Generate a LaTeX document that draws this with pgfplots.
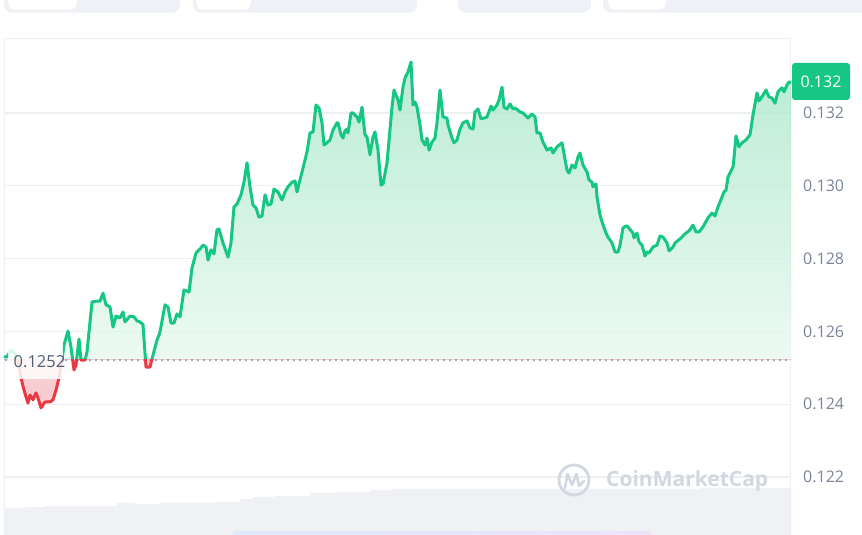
\documentclass[border=0pt]{standalone}
\usepackage{fontspec}
\setmainfont{Open Sans}
\usepackage{pgfplots}
\pgfplotsset{compat=1.18}
\usepackage{pgfplotstable}
\definecolor{cmcgreen}{RGB}{22,199,132}
\definecolor{cmcred}{RGB}{234,57,67}
\definecolor{gridc}{RGB}{237,240,243}
\definecolor{ticklab}{RGB}{122,132,152}
\definecolor{labdark}{RGB}{80,94,118}
\definecolor{greentop}{RGB}{160,228,196}
\definecolor{greenbot}{RGB}{241,251,246}
\definecolor{redfill}{RGB}{245,184,189}
\definecolor{volc}{RGB}{239,241,245}
\definecolor{tabc}{RGB}{238,241,245}
\definecolor{wmc}{RGB}{210,215,224}
\definecolor{dotc}{RGB}{160,167,180}
\definecolor{bandl}{RGB}{224,234,253}
\definecolor{bandr}{RGB}{237,228,252}

\pgfplotstableread{
x y
4 0.12530
7 0.12530
11 0.12549
14 0.12543
18 0.12516
21 0.12472
24 0.12439
28 0.12403
30 0.12425
33 0.12412
36 0.12431
38 0.12417
41 0.12390
45 0.12406
50 0.12406
53 0.12412
56 0.12439
59 0.12472
62 0.12521
64 0.12563
68 0.12601
71 0.12557
74 0.12494
76 0.12508
79 0.12579
81 0.12521
85 0.12521
87 0.12543
92 0.12681
97 0.12683
100 0.12683
103 0.12705
106 0.12673
110 0.12667
113 0.12612
116 0.12642
120 0.12637
123 0.12653
125 0.12626
130 0.12642
134 0.12640
137 0.12629
140 0.12626
143 0.12618
146 0.12502
150 0.12502
153 0.12535
157 0.12576
160 0.12598
165 0.12673
168 0.12667
171 0.12623
174 0.12623
177 0.12648
180 0.12640
184 0.12714
189 0.12708
192 0.12774
196 0.12815
200 0.12826
203 0.12837
206 0.12832
208 0.12796
211 0.12824
214 0.12813
217 0.12879
219 0.12881
223 0.12843
228 0.12804
231 0.12843
234 0.12942
237 0.12950
241 0.12975
244 0.13010
247 0.13063
250 0.12997
253 0.12947
256 0.12939
259 0.12914
262 0.12917
265 0.12975
268 0.12947
271 0.12950
274 0.12991
278 0.12983
282 0.12961
285 0.12983
288 0.12997
292 0.13010
295 0.13013
297 0.12983
300 0.13016
303 0.13049
307 0.13093
310 0.13145
313 0.13148
316 0.13222
319 0.13214
322 0.13173
324 0.13112
327 0.13118
330 0.13126
333 0.13153
337 0.13173
338 0.13173
341 0.13140
343 0.13131
345 0.13151
347 0.13156
348 0.13145
351 0.13200
353 0.13200
357 0.13189
359 0.13175
362 0.13216
363 0.13189
365 0.13140
367 0.13134
370 0.13085
373 0.13134
375 0.13148
378 0.13098
381 0.13002
383 0.13005
387 0.13063
392 0.13216
394 0.13263
398 0.13236
400 0.13208
403 0.13271
405 0.13296
408 0.13313
411 0.13340
413 0.13222
415 0.13230
417 0.13216
420 0.13167
422 0.13126
425 0.13112
427 0.13131
429 0.13098
432 0.13120
435 0.13131
437 0.13173
440 0.13263
443 0.13189
447 0.13186
448 0.13167
452 0.13131
454 0.13118
457 0.13126
460 0.13156
463 0.13173
467 0.13178
470 0.13159
473 0.13156
475 0.13203
478 0.13211
481 0.13184
484 0.13186
487 0.13189
491 0.13219
493 0.13208
497 0.13222
499 0.13236
502 0.13271
504 0.13216
507 0.13211
510 0.13225
513 0.13211
515 0.13214
520 0.13203
523 0.13200
528 0.13186
532 0.13197
535 0.13189
537 0.13145
540 0.13145
543 0.13120
547 0.13098
551 0.13104
553 0.13090
557 0.13107
562 0.13118
567 0.13043
569 0.13035
572 0.13057
575 0.13049
578 0.13079
580 0.13090
583 0.13057
587 0.13038
589 0.13016
592 0.13010
593 0.12997
596 0.13005
597 0.12969
600 0.12920
602 0.12901
606 0.12870
608 0.12859
612 0.12843
615 0.12818
618 0.12818
620 0.12837
623 0.12884
626 0.12890
628 0.12887
633 0.12870
634 0.12857
637 0.12870
639 0.12846
642 0.12837
645 0.12807
647 0.12818
649 0.12815
653 0.12832
657 0.12837
660 0.12862
663 0.12859
667 0.12843
669 0.12821
673 0.12832
675 0.12843
680 0.12854
685 0.12868
689 0.12876
693 0.12892
696 0.12873
699 0.12873
703 0.12887
708 0.12912
712 0.12925
715 0.12917
718 0.12942
722 0.12969
724 0.12983
726 0.12988
728 0.13024
733 0.13052
734 0.13076
736 0.13137
739 0.13107
742 0.13118
746 0.13126
750 0.13140
753 0.13195
757 0.13255
759 0.13233
763 0.13249
766 0.13263
769 0.13244
772 0.13241
775 0.13227
778 0.13258
782 0.13269
784 0.13258
787 0.13277
789 0.13285
791 0.13285
}\pricedata

\pgfplotstableread{
x v
4 0.12115
25 0.12118
45 0.12120
117 0.12129
135 0.12126
160 0.12129
215 0.12131
240 0.12140
253 0.12145
275 0.12148
310 0.12156
335 0.12159
370 0.12164
392 0.12167
600 0.12167
700 0.12170
791 0.12170
}\voldata

\begin{document}
\begin{tikzpicture}[x=1pt,y=1pt]
% top tabs
\fill[tabc, rounded corners=8pt] (4,522.3) rectangle (180,560);
\fill[tabc, rounded corners=8pt] (193,522.3) rectangle (417,560);
\fill[tabc, rounded corners=8pt] (458,522.3) rectangle (591,560);
\fill[tabc, rounded corners=8pt] (603,522.3) rectangle (890,560);
\fill[white, draw=black!8, rounded corners=6pt] (8,525) rectangle (77,560);
\fill[white, draw=black!8, rounded corners=6pt] (196,525) rectangle (251,560);
\fill[white, draw=black!8, rounded corners=6pt] (608,525) rectangle (666,560);

\begin{axis}[
  at={(4pt,0pt)}, anchor=south west,
  width=787pt, height=496.5pt, scale only axis,
  xmin=4, xmax=791, ymin=0.120406, ymax=0.134046,
  axis line style={draw=none},
  xtick=\empty,
  scaled y ticks=false,
  ytick={0.122,0.124,0.126,0.128,0.130,0.132},
  yticklabels={0.122,0.124,0.126,0.128,0.130,0.132},
  yticklabel pos=right,
  major tick length=0pt,
  yticklabel style={font=\fontsize{16}{19}\selectfont, text=ticklab, inner sep=0pt, xshift=12pt},
  ymajorgrids, grid style={draw=gridc, line width=1.2pt},
]
% volume
\addplot[const plot, draw=none, fill=volc] table[x=x,y=v]{\voldata} -- (axis cs:791,0.12030) -- (axis cs:4,0.12030) -- cycle;
% border
\draw[gridc, line width=1.2pt] (rel axis cs:0,0) -- (rel axis cs:0,1) -- (rel axis cs:1,1) -- (rel axis cs:1,0);
% fills
\begin{scope}
\clip (axis cs:0,0.12522) rectangle (axis cs:800,0.1345);
\addplot[draw=none, top color=greentop, bottom color=greenbot, fill opacity=0.72] table[x=x,y=y]{\pricedata} -- (axis cs:791,0.12522) -- (axis cs:4,0.12522) -- cycle;
\end{scope}
\begin{scope}
\clip (axis cs:0,0.12522) rectangle (axis cs:800,0.1200);
\addplot[draw=none, fill=redfill, fill opacity=0.7] table[x=x,y=y]{\pricedata} -- (axis cs:791,0.12522) -- (axis cs:4,0.12522) -- cycle;
\end{scope}
% baseline
\addplot[dotc, line width=1.6pt, dash pattern=on 2pt off 4pt] coordinates {(5,0.12522) (791,0.12522)};
% lines
\begin{scope}
\clip (axis cs:0,0.12522) rectangle (axis cs:800,0.1345);
\addplot[cmcgreen, line width=3pt, line join=round, line cap=round] table[x=x,y=y]{\pricedata};
\end{scope}
\begin{scope}
\clip (axis cs:0,0.12522) rectangle (axis cs:800,0.1200);
\addplot[cmcred, line width=3pt, line join=round, line cap=round] table[x=x,y=y]{\pricedata};
\end{scope}
% open price label
\fill[white, opacity=0.85] (axis cs:8,0.12576) rectangle (axis cs:63,0.12469);
\node[text=labdark, font=\fontsize{16.5}{19}\selectfont, inner sep=0pt] at (axis cs:39.5,0.12517) {0.1252};
\end{axis}

% bottom band
\fill[left color=bandl, right color=bandr] (233,0) rectangle (651,3);
% watermark
\draw[wmc, line width=2.8pt] (574,55) circle (15);
\draw[wmc, line width=2.6pt, line join=round, line cap=round] (565,47) -- (567.5,61) -- (572,50) -- (576.5,61) -- (579,49) -- (584,54);
\node[anchor=base west, text=wmc, font=\bfseries\fontsize{21}{24}\selectfont, inner sep=0pt] at (606,48) {CoinMarketCap};
% price tag
\fill[cmcgreen, rounded corners=3pt] (792,435) rectangle (850,472);
\node[text=white, font=\fontsize{16}{19}\selectfont, inner sep=0pt] at (821,453.5) {0.132};

\pgfresetboundingbox
\useasboundingbox (0,0) rectangle (862,535);
\end{tikzpicture}
\end{document}
